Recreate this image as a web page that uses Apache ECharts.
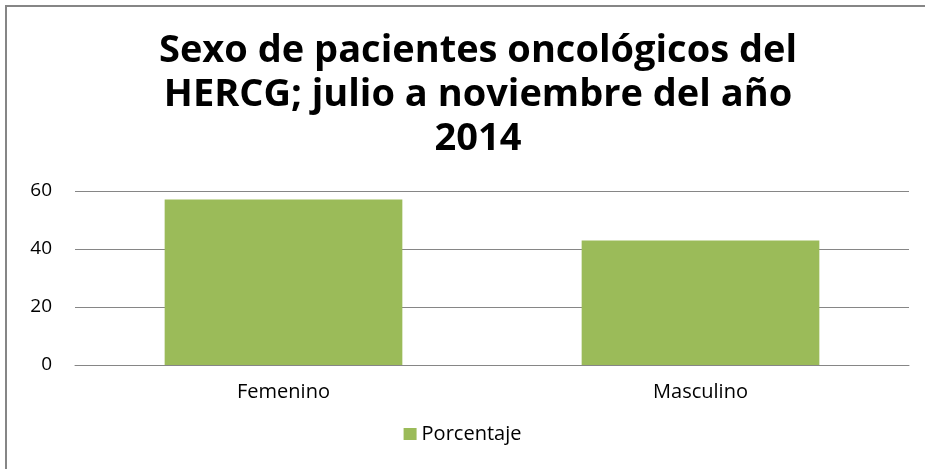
<!DOCTYPE html>
<html>
<head>
<meta charset="utf-8">
<script src="https://cdn.jsdelivr.net/npm/echarts@6/dist/echarts.min.js"></script>
<style>
    html, body { margin: 0; padding: 0; background: #fff; }
    #chart { width: 925px; height: 469px; }
</style>
</head>
<body>
<div id="chart"></div>
<script>
    // datos
    var categorias = ['Femenino', 'Masculino'];
    var porcentaje = [57.1, 42.9];
    var serieNombre = 'Porcentaje';
    var titulo = 'Sexo de pacientes oncológicos del\nHERCG; julio a noviembre del año\n2014';

    var fuente = '"Open Sans", sans-serif';
    var myChart = echarts.init(document.getElementById('chart'));
    myChart.setOption({
        animation: false,
        title: {
            text: titulo,
            left: 473,
            top: 24,
            textAlign: 'center',
            textStyle: {
                fontFamily: fuente,
                fontWeight: 'bold',
                fontSize: 38,
                lineHeight: 44,
                color: '#000'
            }
        },
        // marco del gráfico
        graphic: [{
            type: 'rect',
            shape: { x: 6, y: 6, width: 940, height: 490 },
            style: { fill: 'none', stroke: '#868686', lineWidth: 2 }
        }],
        legend: {
            data: [serieNombre],
            bottom: 20,
            left: 'center',
            itemWidth: 13,
            itemHeight: 12,
            itemGap: 6,
            icon: 'rect',
            textStyle: { fontFamily: fuente, fontSize: 20, color: '#000' }
        },
        grid: { left: 75, right: 16, top: 191, bottom: 104 },
        xAxis: {
            type: 'category',
            data: categorias,
            axisLine: { show: true, lineStyle: { color: '#868686' } },
            axisTick: { show: false },
            axisLabel: { fontFamily: fuente, fontSize: 20, color: '#000', margin: 17 }
        },
        yAxis: {
            type: 'value',
            min: 0,
            max: 60,
            interval: 20,
            axisLine: { show: false },
            axisTick: { show: false },
            splitLine: { lineStyle: { color: '#868686' } },
            axisLabel: { fontFamily: fuente, fontSize: 19, color: '#000', margin: 23 }
        },
        series: [{
            name: serieNombre,
            type: 'bar',
            data: porcentaje,
            barWidth: '57%',
            itemStyle: { color: '#9BBB59' }
        }]
    });
</script>
</body>
</html>
